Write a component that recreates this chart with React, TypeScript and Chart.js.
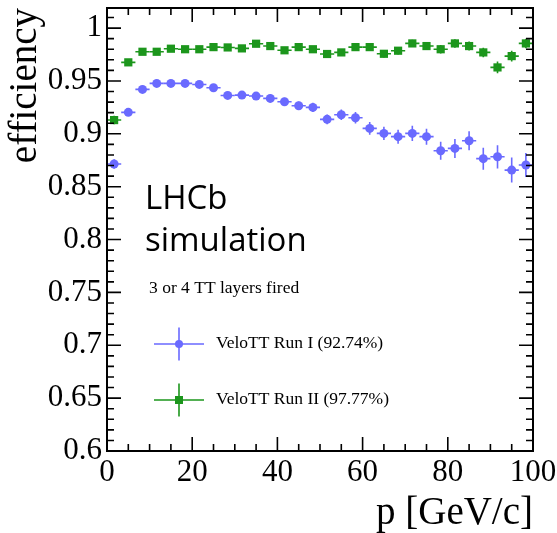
import React, { useEffect, useRef } from 'react';
import { Chart, registerables } from 'chart.js';

Chart.register(...registerables);

// ---------- data ----------
const pCenters = [1.67, 5, 8.33, 11.67, 15, 18.33, 21.67, 25, 28.33, 31.67, 35, 38.33, 41.67, 45, 48.33, 51.67, 55, 58.33, 61.67, 65, 68.33, 71.67, 75, 78.33, 81.67, 85, 88.33, 91.67, 95, 98.33];
const pHalfWidth = 1.667;

const runIEff = [0.8714, 0.9203, 0.942, 0.9477, 0.9477, 0.9477, 0.9467, 0.9436, 0.9363, 0.9366, 0.9357, 0.9335, 0.9303, 0.9265, 0.925, 0.9137, 0.918, 0.9152, 0.9051, 0.9004, 0.8973, 0.9004, 0.8973, 0.884, 0.8862, 0.8934, 0.8765, 0.8783, 0.8657, 0.8705];
const runIErr = [0.0045, 0.003, 0.0025, 0.0025, 0.0025, 0.0025, 0.0027, 0.0029, 0.003, 0.0032, 0.0034, 0.0036, 0.0038, 0.004, 0.0043, 0.0046, 0.005, 0.0055, 0.006, 0.0063, 0.0066, 0.0072, 0.0076, 0.0085, 0.009, 0.009, 0.0104, 0.011, 0.0118, 0.0114];

const runIIEff = [0.913, 0.9676, 0.9776, 0.9776, 0.9805, 0.980, 0.980, 0.982, 0.9817, 0.9808, 0.9852, 0.983, 0.979, 0.982, 0.980, 0.9755, 0.977, 0.982, 0.982, 0.9757, 0.9786, 0.9855, 0.983, 0.980, 0.9855, 0.983, 0.977, 0.9628, 0.9735, 0.9855];
const runIIErr = [0.004, 0.0025, 0.002, 0.002, 0.002, 0.002, 0.002, 0.002, 0.002, 0.0022, 0.0022, 0.0024, 0.0026, 0.0026, 0.0028, 0.003, 0.003, 0.003, 0.0032, 0.0035, 0.0035, 0.0035, 0.0038, 0.004, 0.004, 0.0042, 0.0045, 0.0055, 0.005, 0.0045];

const xTickValues = [0, 20, 40, 60, 80, 100];
const yTickValues = [0.6, 0.65, 0.7, 0.75, 0.8, 0.85, 0.9, 0.95, 1.0];

const seriesLabels = ['VeloTT Run I (92.74%)', 'VeloTT Run II (97.77%)'];
const noteText = '3 or 4 TT layers fired';
const lhcbLines = ['LHCb', 'simulation'];

const BLUE = '#6a6aff';
const GREEN = '#1c961c';
const SERIF = '"Liberation Serif", "Times New Roman", serif';

const errBars = [runIErr, runIIErr];
const colors = [BLUE, GREEN];

const errorBarPlugin = {
  id: 'errorBars',
  beforeDatasetsDraw(chart: any) {
    const { ctx, scales } = chart;
    const xs = scales.x;
    const ys = scales.y;
    chart.data.datasets.forEach((ds: any, di: number) => {
      ctx.save();
      ctx.strokeStyle = colors[di];
      ctx.lineWidth = 1.6;
      ds.data.forEach((pt: any, i: number) => {
        const e = errBars[di][i];
        const xl = xs.getPixelForValue(pt.x - pHalfWidth);
        const xr = xs.getPixelForValue(pt.x + pHalfWidth);
        const xc = xs.getPixelForValue(pt.x);
        const yc = ys.getPixelForValue(pt.y);
        const yt = ys.getPixelForValue(pt.y + e);
        const yb = ys.getPixelForValue(pt.y - e);
        ctx.beginPath();
        ctx.moveTo(xl, yc);
        ctx.lineTo(xr, yc);
        ctx.moveTo(xc, yt);
        ctx.lineTo(xc, yb);
        ctx.stroke();
      });
      ctx.restore();
    });
  },
};

const framePlugin = {
  id: 'frameTicks',
  afterDraw(chart: any) {
    const { ctx, chartArea, scales } = chart;
    const { left, right, top, bottom } = chartArea;
    const xs = scales.x;
    const ys = scales.y;
    ctx.save();
    ctx.strokeStyle = '#000';
    ctx.lineWidth = 2;
    ctx.strokeRect(left, top, right - left, bottom - top);
    ctx.lineWidth = 1.6;
    ctx.beginPath();
    // x ticks: major every 20, minor every 5
    for (let v = 0; v <= 100; v += 5) {
      const len = v % 20 === 0 ? 14 : 7;
      const px = xs.getPixelForValue(v);
      ctx.moveTo(px, bottom);
      ctx.lineTo(px, bottom - len);
      ctx.moveTo(px, top);
      ctx.lineTo(px, top + len);
    }
    // y ticks: major every 0.05, minor every 0.01
    for (let k = 60; k <= 101; k += 1) {
      const v = k / 100;
      const len = k % 5 === 0 ? 14 : 7;
      const py = ys.getPixelForValue(v);
      if (py < top) continue;
      ctx.moveTo(left, py);
      ctx.lineTo(left + len, py);
      ctx.moveTo(right, py);
      ctx.lineTo(right - len, py);
    }
    ctx.stroke();

    // annotations
    ctx.fillStyle = '#000';
    ctx.textBaseline = 'alphabetic';
    ctx.textAlign = 'left';
    ctx.font = '33px "Open Sans", sans-serif';
    ctx.fillText(lhcbLines[0], 145, 209);
    ctx.fillText(lhcbLines[1], 145, 251);
    ctx.font = '17.5px ' + SERIF;
    ctx.fillText(noteText, 149, 293);

    // legend
    const rows = [
      { y: 344, color: BLUE, style: 'circle' },
      { y: 400, color: GREEN, style: 'rect' },
    ];
    rows.forEach((r, i) => {
      const mx = 179;
      ctx.strokeStyle = r.color;
      ctx.fillStyle = r.color;
      ctx.lineWidth = 1.6;
      ctx.beginPath();
      ctx.moveTo(154, r.y);
      ctx.lineTo(204, r.y);
      ctx.moveTo(mx, r.y - 16.5);
      ctx.lineTo(mx, r.y + 16.5);
      ctx.stroke();
      ctx.beginPath();
      if (r.style === 'circle') {
        ctx.arc(mx, r.y, 4, 0, Math.PI * 2);
      } else {
        ctx.rect(mx - 4, r.y - 4, 8, 8);
      }
      ctx.fill();
      ctx.fillStyle = '#000';
      ctx.font = '17.5px ' + SERIF;
      ctx.fillText(seriesLabels[i], 216, r.y + 4);
    });
    ctx.restore();
  },
};

export default function App() {
  const canvasRef = useRef<HTMLCanvasElement | null>(null);

  useEffect(() => {
    if (!canvasRef.current) return;
    const chart = new Chart(canvasRef.current, {
      type: 'scatter',
      data: {
        datasets: [
          {
            label: seriesLabels[0],
            data: pCenters.map((p, i) => ({ x: p, y: runIEff[i] })),
            pointStyle: 'circle',
            pointRadius: 4.5,
            backgroundColor: BLUE,
            borderWidth: 0,
            showLine: false,
          },
          {
            label: seriesLabels[1],
            data: pCenters.map((p, i) => ({ x: p, y: runIIEff[i] })),
            pointStyle: 'rect',
            pointRadius: 5.8,
            backgroundColor: GREEN,
            borderWidth: 0,
            showLine: false,
          },
        ],
      },
      options: {
        animation: false,
        responsive: false,
        devicePixelRatio: 1,
        layout: { padding: { top: 8, right: 24, left: 0, bottom: 0 }, autoPadding: false },
        plugins: {
          legend: { display: false },
          tooltip: { enabled: false },
        },
        scales: {
          x: {
            type: 'linear',
            min: 0,
            max: 100,
            afterBuildTicks: (axis: any) => {
              axis.ticks = xTickValues.map((v) => ({ value: v }));
            },
            afterFit: (scale: any) => {
              scale.height = 82;
              scale.paddingLeft = 0;
              scale.paddingRight = 0;
              scale.paddingTop = 0;
              scale.paddingBottom = 0;
            },
            grid: { display: false, drawTicks: false },
            border: { display: false },
            ticks: {
              color: '#000',
              font: { family: SERIF, size: 31 },
              padding: 3,
              maxRotation: 0,
              autoSkip: false,
              callback: (v: any) => String(v),
            },
            title: {
              display: true,
              text: 'p [GeV/c]',
              align: 'end',
              color: '#000',
              font: { family: SERIF, size: 39, lineHeight: 1 },
              padding: { top: 0, bottom: 0 },
            },
          },
          y: {
            type: 'linear',
            min: 0.6,
            max: 1.019,
            afterBuildTicks: (axis: any) => {
              axis.ticks = yTickValues.map((v) => ({ value: v }));
            },
            afterFit: (scale: any) => {
              scale.width = 107;
              scale.paddingLeft = 0;
              scale.paddingRight = 0;
              scale.paddingTop = 0;
              scale.paddingBottom = 0;
            },
            grid: { display: false, drawTicks: false },
            border: { display: false },
            ticks: {
              color: '#000',
              font: { family: SERIF, size: 31 },
              padding: 5,
              autoSkip: false,
              callback: (v: any) => String(Number(Number(v).toFixed(2))),
            },
            title: {
              display: true,
              text: 'efficiency',
              align: 'end',
              color: '#000',
              font: { family: SERIF, size: 39, lineHeight: 1 },
              padding: { top: 6, bottom: 0 },
            },
          },
        },
      },
      plugins: [errorBarPlugin, framePlugin],
    } as any);
    return () => chart.destroy();
  }, []);

  return (
    <div style={{ position: 'absolute', left: 0, top: 0, width: 557, height: 533, background: '#fff' }}>
      <canvas ref={canvasRef} width={557} height={533} style={{ display: 'block' }} />
    </div>
  );
}
